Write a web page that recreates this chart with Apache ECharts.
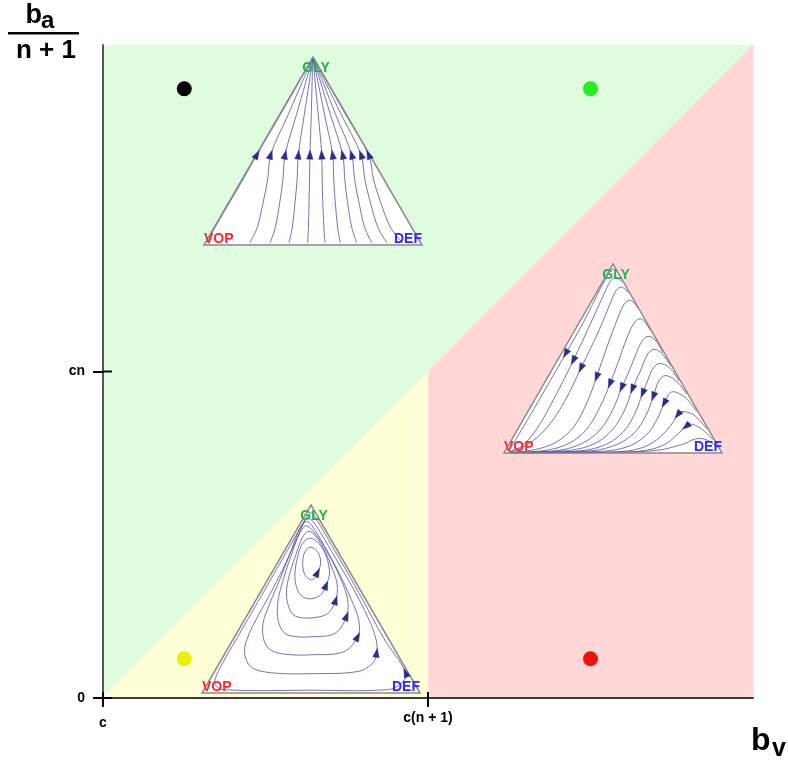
<!DOCTYPE html>
<html><head><meta charset="utf-8">
<script src="https://cdn.jsdelivr.net/npm/echarts@6/dist/echarts.min.js"></script>
<style>html,body{margin:0;padding:0;background:#fff}#chart{width:788px;height:762px}</style>
</head><body><div id="chart"></div>
<script>
// ---------- data ----------
const xTickValues = [0, 1];
const xTickLabels = ['c', 'c(n + 1)'];
const yTickValues = [0, 1];
const yTickLabels = ['0', 'cn'];

const greenRegion = [[0,0],[0,2],[2,2]];
const redRegion = [[1,1],[2,2],[2,0],[1,0]];
const yellowRegion = [[0,0],[1,1],[1,0]];
const regionList = [greenRegion, redRegion, yellowRegion];
const regionColors = ['#dffcdf', '#ffd7d7', '#ffffd7'];

const dotPoints = [[0.25,1.866],[1.5,1.866],[0.25,0.12],[1.5,0.12]];
const dotColors = ['#000000','#22ee22','#eeee00','#ee1111'];

const simplexVertices = [[0,0],[1,0],[0.5,0.866]];
const vertexLabels = ['VOP','DEF','GLY'];
const vertexColors = ['#ff2a2a','#2b2bff','#22b14c'];

// phase portrait 1 (green region): flow to GLY
const flowGLY = [
 [[0.015,0.01],[0.05,0.08],[0.12,0.2],[0.178,0.3],[0.243,0.416],[0.35,0.6],[0.435,0.75],[0.5,0.866]],
 [[0.21,0.01],[0.244,0.08],[0.272,0.2],[0.292,0.3],[0.306,0.416],[0.386,0.6],[0.45,0.75],[0.5,0.866]],
 [[0.303,0.01],[0.327,0.08],[0.348,0.2],[0.362,0.3],[0.372,0.416],[0.424,0.6],[0.467,0.75],[0.5,0.866]],
 [[0.39,0.01],[0.405,0.08],[0.418,0.2],[0.427,0.3],[0.433,0.416],[0.46,0.6],[0.483,0.75],[0.5,0.866]],
 [[0.475,0.01],[0.479,0.08],[0.482,0.2],[0.484,0.3],[0.486,0.416],[0.492,0.6],[0.496,0.75],[0.5,0.866]],
 [[0.555,0.01],[0.55,0.08],[0.545,0.2],[0.542,0.3],[0.54,0.416],[0.524,0.6],[0.51,0.75],[0.5,0.866]],
 [[0.625,0.01],[0.613,0.08],[0.602,0.2],[0.595,0.3],[0.59,0.416],[0.553,0.6],[0.523,0.75],[0.5,0.866]],
 [[0.70,0.01],[0.678,0.08],[0.658,0.2],[0.646,0.3],[0.636,0.416],[0.58,0.6],[0.535,0.75],[0.5,0.866]],
 [[0.77,0.01],[0.737,0.08],[0.71,0.2],[0.691,0.3],[0.677,0.416],[0.604,0.6],[0.546,0.75],[0.5,0.866]],
 [[0.84,0.01],[0.798,0.08],[0.762,0.2],[0.738,0.3],[0.72,0.416],[0.63,0.6],[0.557,0.75],[0.5,0.866]],
 [[0.91,0.01],[0.856,0.08],[0.809,0.2],[0.778,0.3],[0.755,0.416],[0.65,0.6],[0.566,0.75],[0.5,0.866]]
];
const arrowsGLY = [[0,4],[1,4],[2,4],[3,4],[4,4],[5,4],[6,4],[7,4],[8,4],[9,4],[10,4]];

// phase portrait 2 (red region): flow to VOP
const flowVOP = [
 [[0.515,0.83],[0.50,0.845],[0.485,0.83],[0.44,0.75],[0.37,0.61],[0.283,0.455],[0.165,0.25],[0.065,0.08],[0.02,0.008]],
 [[0.54,0.785],[0.515,0.805],[0.49,0.79],[0.455,0.72],[0.40,0.60],[0.318,0.424],[0.23,0.25],[0.15,0.11],[0.08,0.03],[0.02,0.006]],
 [[0.57,0.735],[0.54,0.76],[0.515,0.745],[0.485,0.68],[0.435,0.56],[0.353,0.389],[0.28,0.24],[0.20,0.12],[0.11,0.04],[0.025,0.005]],
 [[0.613,0.665],[0.595,0.69],[0.575,0.70],[0.55,0.68],[0.515,0.60],[0.47,0.48],[0.425,0.348],[0.38,0.23],[0.32,0.12],[0.24,0.05],[0.14,0.015],[0.03,0.004]],
 [[0.672,0.56],[0.65,0.595],[0.627,0.615],[0.60,0.60],[0.565,0.53],[0.525,0.42],[0.486,0.317],[0.44,0.21],[0.38,0.11],[0.30,0.045],[0.19,0.012],[0.03,0.003]],
 [[0.728,0.46],[0.70,0.51],[0.665,0.535],[0.635,0.515],[0.60,0.44],[0.57,0.365],[0.54,0.30],[0.50,0.20],[0.44,0.105],[0.36,0.045],[0.25,0.012],[0.03,0.003]],
 [[0.763,0.40],[0.725,0.455],[0.69,0.475],[0.66,0.455],[0.625,0.375],[0.589,0.293],[0.555,0.20],[0.50,0.11],[0.42,0.045],[0.30,0.012],[0.03,0.002]],
 [[0.803,0.33],[0.76,0.39],[0.715,0.41],[0.685,0.39],[0.66,0.335],[0.636,0.274],[0.60,0.18],[0.55,0.10],[0.47,0.04],[0.35,0.01],[0.03,0.002]],
 [[0.838,0.27],[0.79,0.33],[0.74,0.355],[0.71,0.33],[0.685,0.259],[0.65,0.17],[0.60,0.095],[0.52,0.04],[0.40,0.01],[0.03,0.002]],
 [[0.884,0.19],[0.83,0.255],[0.77,0.28],[0.735,0.228],[0.70,0.15],[0.65,0.08],[0.57,0.03],[0.45,0.008],[0.03,0.002]],
 [[0.93,0.11],[0.87,0.175],[0.815,0.19],[0.797,0.175],[0.76,0.12],[0.70,0.06],[0.62,0.02],[0.50,0.005],[0.03,0.002]],
 [[0.96,0.06],[0.90,0.115],[0.853,0.133],[0.835,0.122],[0.80,0.09],[0.74,0.04],[0.65,0.012],[0.50,0.003],[0.03,0.001]],
 [[0.98,0.025],[0.93,0.06],[0.88,0.065],[0.82,0.04],[0.70,0.012],[0.50,0.003],[0.03,0.001]]
];
const arrowsVOP = [[0,5],[1,5],[2,5],[3,6],[4,6],[5,6],[6,5],[7,5],[8,4],[9,3],[10,3],[11,3]];

// phase portrait 3 (yellow region): closed orbits
const cyclesMixed = [
 [[0.505,0.521],[0.53,0.555],[0.544,0.60],[0.532,0.648],[0.497,0.672],[0.472,0.65],[0.462,0.60],[0.472,0.545]],
 [[0.50,0.434],[0.545,0.452],[0.569,0.496],[0.585,0.55],[0.57,0.63],[0.535,0.69],[0.495,0.713],[0.462,0.69],[0.438,0.625],[0.426,0.537],[0.44,0.47],[0.465,0.442]],
 [[0.50,0.346],[0.575,0.365],[0.613,0.427],[0.62,0.50],[0.595,0.58],[0.555,0.67],[0.51,0.735],[0.485,0.744],[0.46,0.715],[0.425,0.62],[0.395,0.52],[0.388,0.44],[0.41,0.37],[0.44,0.35]],
 [[0.50,0.259],[0.61,0.275],[0.663,0.354],[0.668,0.43],[0.635,0.53],[0.585,0.63],[0.53,0.72],[0.48,0.77],[0.45,0.74],[0.415,0.65],[0.375,0.53],[0.348,0.42],[0.35,0.33],[0.38,0.275],[0.43,0.26]],
 [[0.50,0.176],[0.65,0.19],[0.714,0.259],[0.72,0.33],[0.685,0.43],[0.625,0.56],[0.56,0.68],[0.505,0.77],[0.478,0.79],[0.45,0.76],[0.41,0.66],[0.36,0.53],[0.31,0.41],[0.28,0.32],[0.285,0.24],[0.32,0.195],[0.40,0.177]],
 [[0.50,0.089],[0.72,0.10],[0.785,0.14],[0.801,0.185],[0.80,0.24],[0.765,0.34],[0.70,0.47],[0.625,0.60],[0.555,0.72],[0.505,0.795],[0.48,0.805],[0.465,0.78],[0.43,0.70],[0.385,0.60],[0.325,0.48],[0.26,0.36],[0.215,0.27],[0.195,0.19],[0.225,0.12],[0.32,0.093]],
 [[0.50,0.013],[0.85,0.015],[0.915,0.045],[0.934,0.093],[0.835,0.25],[0.715,0.47],[0.595,0.68],[0.525,0.80],[0.50,0.83],[0.475,0.80],[0.405,0.68],[0.285,0.47],[0.165,0.26],[0.075,0.10],[0.06,0.04],[0.10,0.015]]
];
const arrowsMixed = [[0,1],[1,2],[2,2],[3,2],[4,2],[5,3],[6,3]];

// ---------- styling / layout ----------
const FONT = '"Liberation Sans", Arial, sans-serif';
const LINE_COLOR = 'rgba(70,70,160,0.75)';
const ARROW_COLOR = '#2c2c8c';
const insets = [
  {left: 204, top: 57, width: 218, height: 188, curves: flowGLY, arrows: arrowsGLY, closed: false},
  {left: 504, top: 264, width: 218, height: 189, curves: flowVOP, arrows: arrowsVOP, closed: false},
  {left: 202, top: 505, width: 218, height: 188, curves: cyclesMixed, arrows: arrowsMixed, closed: true}
];

const grids = [{left: 103, top: 45, width: 650, height: 653}];
const xAxes = [
  {gridIndex: 0, type: 'value', min: 0, max: 2, interval: 1, position: 'bottom', z: 10,
   axisLine: {show: true, lineStyle: {color: '#3a3a3a', width: 2}},
   axisTick: {show: true, customValues: xTickValues, length: 9, lineStyle: {color: '#000', width: 2}},
   axisLabel: {customValues: xTickValues, margin: 13, color: '#000', fontSize: 14, fontWeight: 'bold', fontFamily: FONT,
     formatter: v => v === 0 ? '{lo|' + xTickLabels[0] + '}' : xTickLabels[xTickValues.indexOf(v)],
     rich: {lo: {fontSize: 14, fontWeight: 'bold', fontFamily: FONT, color: '#000', padding: [5,0,0,0]}}},
   splitLine: {show: false}}
];
const yAxes = [
  {gridIndex: 0, type: 'value', min: 0, max: 2, interval: 1, position: 'left', z: 10,
   axisLine: {show: true, lineStyle: {color: '#555', width: 2}},
   axisTick: {show: true, customValues: yTickValues, length: 10, lineStyle: {color: '#000', width: 2}},
   axisLabel: {customValues: yTickValues, margin: 18, color: '#000', fontSize: 14, fontWeight: 'bold', fontFamily: FONT,
     formatter: v => yTickLabels[yTickValues.indexOf(v)]},
   splitLine: {show: false}}
];

const series = [];
series.push({
  type: 'custom', xAxisIndex: 0, yAxisIndex: 0, z: 1, silent: true,
  data: regionList.map(r => r[0]),
  renderItem: (params, api) => ({
    type: 'polygon',
    shape: {points: regionList[params.dataIndex].map(p => api.coord(p))},
    style: {fill: regionColors[params.dataIndex], stroke: regionColors[params.dataIndex], lineWidth: 0.5}
  })
});
// inner halves of the crossing tick marks
const innerTicks = xTickValues.map(v => ({value: [v, 0], dir: 'x'})).concat(yTickValues.map(v => ({value: [0, v], dir: 'y'})));
series.push({
  type: 'custom', xAxisIndex: 0, yAxisIndex: 0, z: 20, silent: true,
  data: innerTicks,
  renderItem: (params, api) => {
    const t = innerTicks[params.dataIndex];
    const p = api.coord(t.value);
    const shape = t.dir === 'x' ? {x1: p[0], y1: p[1], x2: p[0], y2: p[1] - 6} : {x1: p[0], y1: p[1], x2: p[0] + 9, y2: p[1]};
    return {type: 'line', shape: shape, style: {stroke: '#000', lineWidth: 2}};
  }
});
series.push({
  type: 'scatter', xAxisIndex: 0, yAxisIndex: 0, z: 2, symbolSize: 15, silent: true,
  data: dotPoints.map((p, i) => ({value: p, itemStyle: {color: dotColors[i], opacity: 1}}))
});

insets.forEach((ins, k) => {
  const gi = k + 1;
  grids.push({left: ins.left, top: ins.top, width: ins.width, height: ins.height});
  xAxes.push({gridIndex: gi, type: 'value', min: 0, max: 1, show: false});
  yAxes.push({gridIndex: gi, type: 'value', min: 0, max: 0.866, show: false});
  const ax = {xAxisIndex: gi, yAxisIndex: gi};
  series.push(Object.assign({type: 'custom', z: 3, silent: true, data: [simplexVertices[0]],
    renderItem: (params, api) => ({type: 'polygon', shape: {points: simplexVertices.map(p => api.coord(p))},
      style: {fill: '#ffffff', stroke: 'none'}})}, ax));
  series.push(Object.assign({type: 'custom', z: 4, silent: true, data: ins.curves.map(c => c[0]),
    renderItem: (params, api) => ({type: ins.closed ? 'polygon' : 'polyline',
      shape: {points: ins.curves[params.dataIndex].map(p => api.coord(p)), smooth: 0.35},
      style: {fill: 'none', stroke: LINE_COLOR, lineWidth: 1}})}, ax));
  series.push(Object.assign({type: 'custom', z: 5, silent: true, data: [simplexVertices[0]],
    renderItem: (params, api) => ({type: 'polygon', shape: {points: simplexVertices.map(p => api.coord(p))},
      style: {fill: 'none', stroke: '#8a8a8a', lineWidth: 1.5}})}, ax));
  series.push(Object.assign({type: 'custom', z: 6, silent: true, data: ins.arrows.map(a => ins.curves[a[0]][a[1]]),
    renderItem: (params, api) => {
      const [ci, pi] = ins.arrows[params.dataIndex];
      const c = ins.curves[ci];
      const n = c.length;
      const prevI = ins.closed ? (pi - 1 + n) % n : Math.max(pi - 1, 0);
      const nextI = ins.closed ? (pi + 1) % n : Math.min(pi + 1, n - 1);
      const p = api.coord(c[pi]), a = api.coord(c[prevI]), b = api.coord(c[nextI]);
      let dx = b[0] - a[0], dy = b[1] - a[1];
      const L = Math.hypot(dx, dy) || 1; dx /= L; dy /= L;
      const nx = -dy, ny = dx, len = 9, w = 3.2;
      const tip = [p[0] + dx * len * 0.5, p[1] + dy * len * 0.5];
      const back = [p[0] - dx * len * 0.5, p[1] - dy * len * 0.5];
      return {type: 'polygon', shape: {points: [tip, [back[0] + nx * w, back[1] + ny * w], [back[0] - nx * w, back[1] - ny * w]]},
        style: {fill: ARROW_COLOR, stroke: ARROW_COLOR, lineWidth: 0.5}};
    }}, ax));
  series.push(Object.assign({type: 'custom', z: 7, silent: true, data: simplexVertices,
    renderItem: (params, api) => {
      const i = params.dataIndex;
      const p = api.coord(simplexVertices[i]);
      let x = p[0], y = p[1], align = 'center', va = 'middle';
      if (i === 0) { align = 'left'; va = 'bottom'; y = p[1] + 1; }
      else if (i === 1) { align = 'right'; va = 'bottom'; y = p[1] + 1; }
      else { x = p[0] + 3; y = p[1] + 11; }
      return {type: 'text', x: x, y: y, style: {text: vertexLabels[i], fill: vertexColors[i],
        font: 'bold 14px ' + FONT, align: align, verticalAlign: va}};
    }}, ax));
});

const option = {
  animation: false,
  backgroundColor: '#ffffff',
  grid: grids, xAxis: xAxes, yAxis: yAxes, series: series,
  graphic: [
    {type: 'text', x: 25.5, y: 15.6, style: {text: 'b', font: 'bold 27px ' + FONT, fill: '#000', align: 'left', verticalAlign: 'middle'}},
    {type: 'text', x: 41, y: 21.7, style: {text: 'a', font: 'bold 24px ' + FONT, fill: '#000', align: 'left', verticalAlign: 'middle'}},
    {type: 'rect', shape: {x: 8, y: 32, width: 71, height: 2.5}, style: {fill: '#000'}},
    {type: 'text', x: 46, y: 51, style: {text: 'n + 1', font: 'bold 26px ' + FONT, fill: '#000', align: 'center', verticalAlign: 'middle'}},
    {type: 'text', x: 751, y: 741, style: {text: 'b', font: 'bold 32px ' + FONT, fill: '#000', align: 'left', verticalAlign: 'middle'}},
    {type: 'text', x: 772, y: 749.3, style: {text: 'v', font: 'bold 25px ' + FONT, fill: '#000', align: 'left', verticalAlign: 'middle'}}
  ]
};
const chart = echarts.init(document.getElementById('chart'), null, {renderer: 'canvas'});
chart.setOption(option);
</script></body></html>
